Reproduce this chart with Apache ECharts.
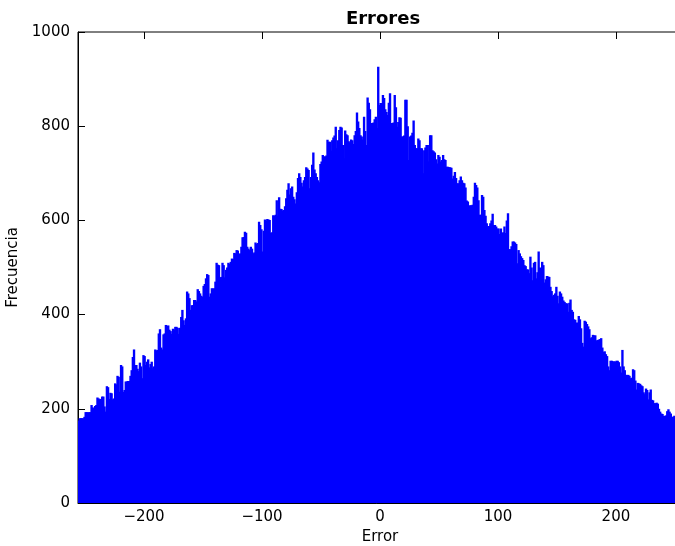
<!DOCTYPE html>
<html>
<head>
<meta charset="utf-8">
<script src="https://cdn.jsdelivr.net/npm/echarts@6/dist/echarts.min.js"></script>
<style>
  html, body { margin: 0; padding: 0; background: #fff; }
  #hist { width: 675px; height: 546px; }
</style>
</head>
<body>
<div id="hist"></div>
<script>
// bins de ancho 1, desde -256 hasta 255
const binInicio = -256;
const binFin = 256;

// frecuencia de cada bin
const frecuencias = [
  175,180,180,180,180,183,193,193,192,193,
  193,208,203,201,206,208,224,222,220,221,
  226,226,205,194,248,246,221,234,233,220,
  222,254,252,270,268,236,293,290,236,240,
  258,258,
  259,259,270,282,310,326,293,293,285,280,
  298,290,265,314,312,293,300,305,288,295,
  300,286,290,326,324,325,360,369,330,326,
  358,360,378,376,377,368,365,359,370,368,
  374,374,372,
  359,372,395,410,388,378,392,449,445,435,
  410,420,420,431,431,428,454,450,445,440,
  438,461,465,477,486,484,438,445,456,455,
  456,470,510,506,505,479,480,510,505,479,
  495,500,
  510,508,512,519,518,531,530,537,536,505,
  530,544,564,565,576,574,544,540,537,544,
  540,530,532,553,550,552,597,590,581,534,
  578,602,600,603,602,601,573,575,611,610,
  612,643,610,
  649,625,624,621,622,630,647,665,679,655,
  668,672,650,645,636,660,690,700,692,680,
  672,685,692,713,710,707,668,692,718,744,
  708,700,692,685,681,720,725,739,736,735,
  738,771,
  767,767,748,770,776,780,799,753,770,792,
  799,797,760,732,791,783,781,768,765,772,
  770,762,781,790,829,810,796,781,778,772,
  820,790,760,861,850,836,807,807,808,815,
  820,796,
  926,845,849,849,866,860,836,830,824,850,
  870,807,807,808,866,840,799,809,819,818,
  778,778,780,856,856,800,728,778,780,786,
  812,760,753,753,774,770,753,753,700,749,
  755,760,760,
  725,781,781,749,747,744,730,721,739,735,
  725,728,739,730,728,714,714,713,713,712,
  689,695,703,690,679,679,685,693,685,680,
  679,670,642,640,631,632,632,633,650,680,
  675,670,
  643,612,612,654,650,622,610,594,587,588,
  594,600,614,590,590,587,583,583,571,583,
  573,575,587,573,600,615,539,539,545,555,
  555,553,550,509,537,530,524,520,516,505,
  503,496,496,
  488,523,500,473,510,512,477,490,534,500,
  484,512,505,468,475,482,481,480,459,450,
  439,442,445,459,440,424,449,445,438,430,
  427,424,424,406,425,432,410,406,390,389,
  383,383,
  397,390,371,340,332,387,385,380,375,369,
  350,352,357,356,356,345,346,347,348,350,
  330,321,322,316,312,290,282,302,302,300,
  301,300,302,302,299,290,277,325,290,282,
  272,272,
  272,270,265,266,284,282,260,241,255,254,
  253,250,248,235,231,243,240,220,235,241,
  219,218,212,212,213,211,200,194,190,189,
  185,185,186,195,199,194,190,183,183,185,
  182,180,178,184,181,179
];

const ticksX = [-200, -100, 0, 100, 200];
const ticksY = [0, 200, 400, 600, 800, 1000];

let categorias = [];
for (let b = binInicio; b < binFin; b++) categorias.push(b);

const fuente = 'DejaVu Sans';
const menos = v => String(v).replace('-', '\u2212');

let chart = echarts.init(document.getElementById('hist'), null, { renderer: 'canvas' });

let option = {
    animation: false,
    backgroundColor: '#fff',
    title: {
        text: 'Errores',
        left: 378,
        textAlign: 'center',
        top: 5,
        textStyle: {
            fontFamily: fuente,
            fontSize: 18,
            fontWeight: 'bold',
            color: '#000'
        }
    },
    grid: {
        left: 78,
        top: 32,
        width: 604,
        height: 471,
        outerBoundsMode: 'none',
        containLabel: false,
        show: true,
        borderColor: '#000',
        borderWidth: 1,
        backgroundColor: '#fff'
    },
    xAxis: [{
        // eje de los bins (oculto)
        type: 'category',
        data: categorias,
        position: 'bottom',
        show: false,
        boundaryGap: true
    }, {
        type: 'value',
        position: 'bottom',
        min: binInicio,
        max: binFin,
        splitLine: { show: false },
        axisLine: { show: true, onZero: false, lineStyle: { color: '#000', width: 1 } },
        axisTick: {
            show: true,
            inside: true,
            length: 7,
            customValues: ticksX,
            lineStyle: { color: '#000' }
        },
        axisLabel: {
            customValues: ticksX,
            formatter: menos,
            margin: 7,
            fontFamily: fuente,
            fontSize: 15,
            color: '#000'
        },
        name: 'Error',
        nameLocation: 'middle',
        nameGap: 19,
        nameTextStyle: { fontFamily: fuente, fontSize: 15, color: '#000' }
    }, {
        type: 'value',
        position: 'top',
        min: binInicio,
        max: binFin,
        splitLine: { show: false },
        axisLine: { show: false, onZero: false },
        axisTick: {
            show: true,
            inside: true,
            length: 7,
            customValues: ticksX,
            lineStyle: { color: '#000' }
        },
        axisLabel: { show: false }
    }],
    yAxis: [{
        type: 'value',
        min: ticksY[0],
        max: ticksY[ticksY.length - 1],
        interval: 200,
        splitLine: { show: false },
        axisLine: { show: true, onZero: false, lineStyle: { color: '#000', width: 1 } },
        axisTick: {
            show: true,
            inside: true,
            length: 7,
            lineStyle: { color: '#000' }
        },
        axisLabel: {
            margin: 8,
            formatter: v => String(v),
            fontFamily: fuente,
            fontSize: 15,
            color: '#000'
        },
        name: 'Frecuencia',
        nameLocation: 'middle',
        nameGap: 43,
        nameTextStyle: { fontFamily: fuente, fontSize: 15, color: '#000' }
    }],
    series: [{
        name: 'Errores',
        type: 'bar',
        xAxisIndex: 0,
        yAxisIndex: 0,
        data: frecuencias,
        barWidth: '200%',
        itemStyle: { color: '#0000ff', opacity: 1 },
        silent: true
    }]
};

chart.setOption(option);
</script>
</body>
</html>
